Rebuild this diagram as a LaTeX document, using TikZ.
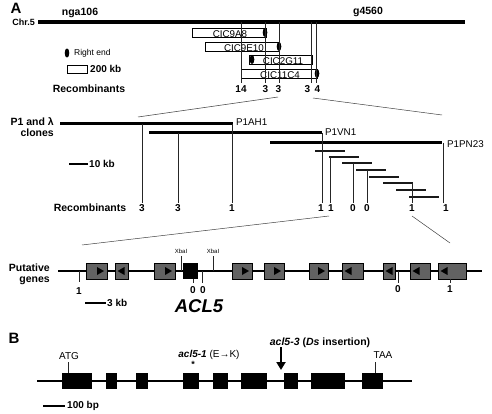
\documentclass[tikz,border=0pt]{standalone}
\usepackage{fontspec}
\setmainfont{Liberation Sans}
\usetikzlibrary{arrows.meta}
\definecolor{genegrey}{RGB}{98,98,98}
\tikzset{
  boldlbl/.style={font=\bfseries\fontsize{10.5}{11}\selectfont, inner sep=0pt},
  numlbl/.style={font=\bfseries\fontsize{10}{11}\selectfont, inner sep=0pt},
  plainlbl/.style={font=\fontsize{9.8}{11}\selectfont, inner sep=0pt},
  tinylbl/.style={font=\fontsize{6}{7}\selectfont, inner sep=0pt},
  panellbl/.style={font=\bfseries\fontsize{15}{15}\selectfont, inner sep=0pt},
  fanline/.style={line width=0.5pt, black!75},
  recline/.style={line width=0.5pt, black!85},
  scalebar/.style={line width=2.5pt},
  yacbox/.style={line width=0.6pt},
  genebox/.style={fill=genegrey, draw=black, line width=0.7pt},
  exon/.style={fill=black},
}
\begin{document}
\begin{tikzpicture}[x=1pt,y=-1pt]
\useasboundingbox (0,0) rectangle (492,414);

% A : YAC contig on chromosome 5
\node[panellbl] (pA) at (16,8) {A};
\node[font=\bfseries\fontsize{9}{10}\selectfont, inner sep=0pt, anchor=east] (chr) at (35,22) {Chr.5};
\draw[line width=3.5pt] (38,22) -- (465,22);
\node[boldlbl] (nga) at (80,13) {nga106};
\node[boldlbl] (g45) at (368,12) {g4560};

\draw[yacbox] (192,28) rectangle (266,37);
\node[plainlbl] (y1) at (230,34.5) {CIC9A8};
\draw[yacbox] (205,42) rectangle (279,51);
\node[plainlbl] (y2) at (244,48.5) {CIC9E10};
\draw[yacbox] (249,55) rectangle (312,64);
\node[plainlbl] (y3) at (283,61.5) {CIC2G11};
\draw[yacbox] (241,69) rectangle (317,78);
\node[plainlbl] (y4) at (280,75.5) {CIC11C4};
\fill (265,32.5) ellipse [x radius=2.3, y radius=4.6];
\fill (279,46.5) ellipse [x radius=2.3, y radius=4.6];
\fill (252,59.5) ellipse [x radius=2.3, y radius=4.6];
\fill (317,73.5) ellipse [x radius=2.3, y radius=4.6];

\foreach \x in {241.5,265.5,279,311,316.5}
  \draw[recline] (\x,22) -- (\x,83);
\node[boldlbl] (rec1) at (89,89) {Recombinants};
\node[numlbl] (r14) at (241,89) {14};
\node[numlbl] at (265.5,89) {3};
\node[numlbl] at (278.5,89) {3};
\node[numlbl] at (307.5,89) {3};
\node[numlbl] at (317.5,89) {4};

% legend
\fill (67,53) ellipse [x radius=2.3, y radius=4.6];
\node[font=\fontsize{8.5}{10}\selectfont, inner sep=0pt, anchor=west] (rend) at (74,53) {Right end};
\draw[yacbox] (67,65) rectangle (87,73);
\node[numlbl, anchor=west] (kb200) at (90,69) {200 kb};

\draw[fanline] (138,117) -- (278,97);
\draw[fanline] (313,98) -- (442,115);

% P1 and lambda clones
\node[boldlbl, align=right, anchor=east] (clones) at (54,127.5) {P1 and λ\\clones};
\draw[line width=3pt] (60,124) -- (233,124);
\node[plainlbl, anchor=west] (p1a) at (236,122.5) {P1AH1};
\draw[line width=3pt] (149,133) -- (322,133);
\node[plainlbl, anchor=west] (p1v) at (325,132) {P1VN1};
\draw[line width=3pt] (270,143) -- (442,143);
\node[plainlbl, anchor=west] (p1p) at (447,144) {P1PN23};

\draw[scalebar] (69,164) -- (88,164);
\node[numlbl, anchor=west] (kb10) at (89,164) {10 kb};

\foreach \x/\y in {315/151,329/157,342/163,356/170,369/177,383/183,396/190,409/197}
  \draw[line width=2.6pt, black!90] (\x,\y) -- ++(30,0);

\foreach \x/\y in {142/124,178/133,232/124,322/133,330/157,353/163,367/170,412/183,443/143}
  \draw[recline] (\x,\y) -- (\x,203);
\node[boldlbl] (rec2) at (90,208) {Recombinants};
\foreach \x/\n in {142/3,178/3,232/1,321/1,331/1,353/0,367/0,412/1,446/1}
  \node[numlbl] at (\x,208) {\n};

\draw[fanline] (82,245) -- (329,216);
\draw[fanline] (412,216) -- (450,243);

% putative genes
\node[boldlbl, align=right, anchor=east] (genes) at (50,274) {Putative\\genes};
\draw[line width=2.2pt] (58,271) -- (482,271);
\foreach \a/\b in {86/107,154/175,232/252,264/284,309/328} {
  \draw[genebox] (\a,263) rectangle (\b,279);
  \fill (\b-3,271) -- (\b-10,267) -- (\b-10,275) -- cycle;
}
\foreach \a/\b in {115/128,342/363,383/395,410/430,438/466} {
  \draw[genebox] (\a,263) rectangle (\b,279);
  \fill (\a+2.5,271) -- (\a+9.5,267) -- (\a+9.5,275) -- cycle;
}
\fill (183,263) rectangle (198,279);

\node[tinylbl] (xb1) at (181,251) {XbaI};
\node[tinylbl] (xb2) at (213,251) {XbaI};
\draw[recline] (181,256) -- (181,271);
\draw[recline] (213,256) -- (213,271);

\draw[recline] (79,271) -- (79,282);
\node[numlbl] at (79,291) {1};
\draw[recline] (193,279) -- (193,283);
\node[numlbl] at (193,290) {0};
\draw[recline] (202,271) -- (202,283);
\node[numlbl] at (203,290) {0};
\draw[recline] (398,271) -- (398,283);
\node[numlbl] at (398,289) {0};
\draw[recline] (450,279) -- (450,283);
\node[numlbl] at (450,289) {1};

\draw[scalebar] (85,303) -- (106,303);
\node[numlbl, anchor=west] (kb3) at (107,303) {3 kb};
\node[font=\bfseries\itshape\fontsize{18.5}{19}\selectfont, inner sep=0pt] (acl) at (199,306) {ACL5};

% B : ACL5 gene structure
\node[panellbl] (pB) at (14,338) {B};
\draw[line width=2.2pt] (37,381) -- (412,381);
\foreach \a/\b in {62/92,106/117,136/148,183/199,213/228,241/267,284/298,311/345,362/383}
  \fill[exon] (\a,373) rectangle (\b,389);

\node[font=\fontsize{10}{11}\selectfont, inner sep=0pt] (atg) at (69,356) {ATG};
\draw[recline] (68,362) -- (68,373);
\node[font=\fontsize{10}{11}\selectfont, inner sep=0pt] (taa) at (383,355) {TAA};
\draw[recline] (375,362) -- (375,373);

\node[font=\fontsize{10}{11}\selectfont, inner sep=0pt] (m1) at (209,355) {\textbf{\textit{acl5-1}} (E→K)};
\node[font=\bfseries\fontsize{9}{9}\selectfont, inner sep=0pt] (ast) at (193,364) {*};
\node[font=\bfseries\fontsize{10.5}{11}\selectfont, inner sep=0pt] (m3) at (320,343) {\textit{acl5-3} (\textit{Ds} insertion)};
\coordinate (ins) at (281,370);
\draw[line width=2.5pt, -{Triangle[length=8pt,width=9pt]}] (281,347) -- (ins);

\draw[scalebar] (43,406) -- (65,406);
\node[numlbl, anchor=west] (bp100) at (67,406) {100 bp};
\end{tikzpicture}
\end{document}
